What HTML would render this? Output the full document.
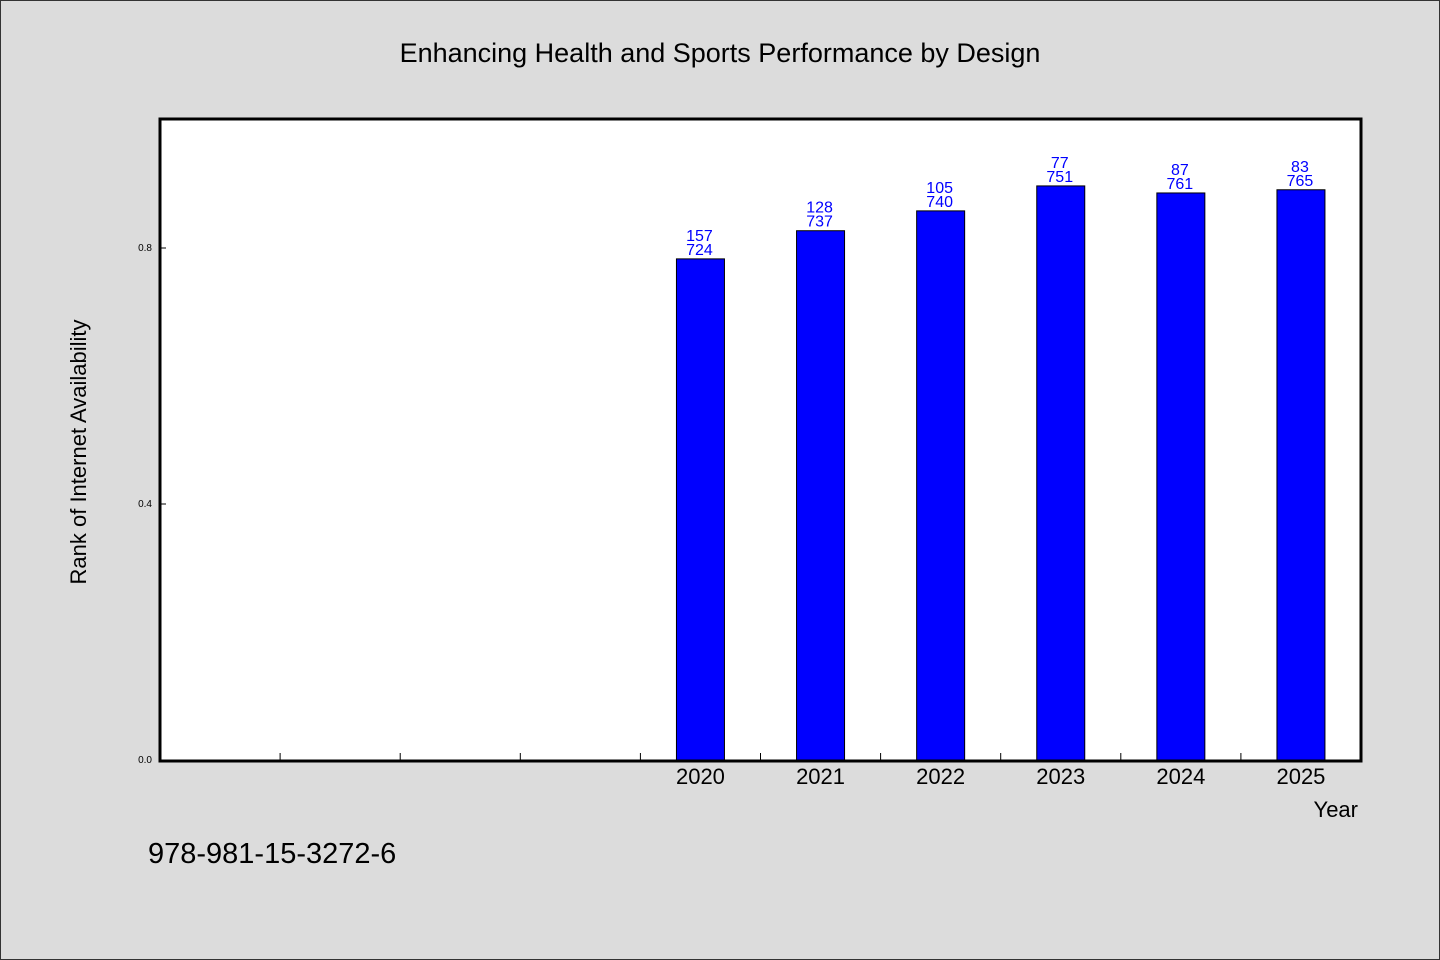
<!DOCTYPE html>
<html><head><meta charset="utf-8"><style>
html,body{margin:0;padding:0;background:#dcdcdc;}
svg{display:block;font-family:"WenQuanYi Zen Hei","Liberation Sans",sans-serif;}
</style></head><body>
<svg width="1440" height="960" xmlns="http://www.w3.org/2000/svg">
<rect x="0.5" y="0.5" width="1439" height="959" fill="#dcdcdc" stroke="#333"/>
<text x="720" y="62" font-size="27" text-anchor="middle">Enhancing Health and Sports Performance by Design</text>
<rect x="160" y="119" width="1201" height="642" fill="#fff"/>
<g id="marks"></g>
<rect x="160" y="119" width="1201" height="642" fill="none" stroke="#000" stroke-width="3"/>
<text x="86" y="452" font-size="22" text-anchor="middle" transform="rotate(-90 86 452)">Rank of Internet Availability</text>
<text x="1358" y="817" font-size="22" text-anchor="end">Year</text>
<text x="148" y="863" font-size="29">978-981-15-3272-6</text>
</svg>
<script>
const categories=["","","","","2020","2021","2022","2023","2024","2025"];
const values=[null,null,null,null,0.783,0.827,0.858,0.897,0.886,0.891];
const topLabels=["","","","","157","128","105","77","87","83"];
const bottomLabels=["","","","","724","737","740","751","761","765"];
const yTicks=[0,0.4,0.8];
const yTickLabels=["0.0","0.4","0.8"];
const NS="http://www.w3.org/2000/svg";
const X0=160,X1=1361,Y0=760,Y1=120;
const slot=(X1-X0)/categories.length;
const xc=i=>X0+slot*(i+0.5);
const y=v=>Y0-(v/1.0)*(Y0-Y1);
const g=document.getElementById('marks');
function mk(t,a){const e=document.createElementNS(NS,t);for(const k in a)e.setAttribute(k,a[k]);g.appendChild(e);return e;}
yTicks.forEach((v,i)=>{
 const l=mk('line',{x1:X0,x2:X0+6,y1:y(v),y2:y(v),stroke:'#000'});
 
 
 const t=mk('text',{x:X0-8,y:y(v)+3,'font-size':10,'text-anchor':'end'});
 t.textContent=yTickLabels[i];
 
 
});
for(let i=1;i<categories.length;i++){
 const l=mk('line',{x1:X0+slot*i,x2:X0+slot*i,y1:Y0,y2:Y0-7,stroke:'#000'});
 
 
}
categories.forEach((c,i)=>{
 if(c){
  const t=mk('text',{x:xc(i),y:784,'font-size':22,'text-anchor':'middle'});
  t.textContent=c;
  
  
 }
 const v=values[i];
 if(v==null)return;
 const bw=48;
 const r=mk('rect',{x:xc(i)-bw/2,y:y(v),width:bw,height:Y0-y(v),fill:'#0000ff',stroke:'#000','stroke-width':1});
 
 
 const b=mk('text',{x:xc(i)-1,y:y(v)-4,'font-size':16,fill:'#0000ff','text-anchor':'middle'});
 b.textContent=bottomLabels[i];
 
 
 const tt=mk('text',{x:xc(i)-1,y:y(v)-18,'font-size':16,fill:'#0000ff','text-anchor':'middle'});
 tt.textContent=topLabels[i];
 
 
});
</script>
</body></html>
